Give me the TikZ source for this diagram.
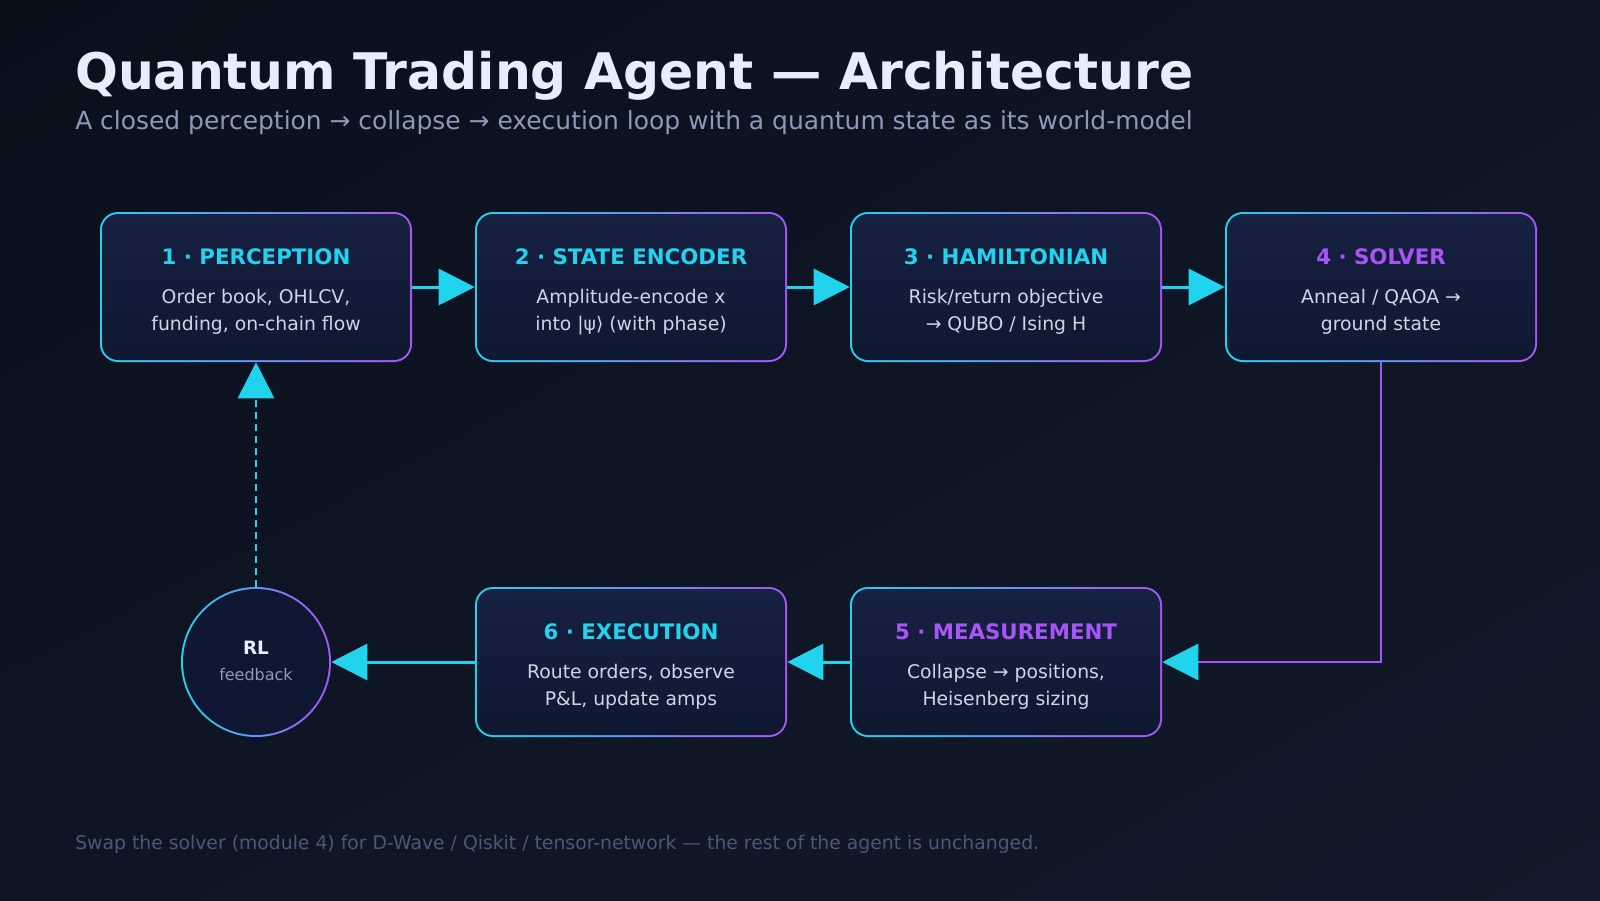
\documentclass[tikz,border=0pt]{standalone}
\usepackage{fontspec}
\setmainfont{DejaVu Sans}
\usetikzlibrary{arrows.meta,shadings}
\definecolor{bgA}{HTML}{0A0F1C}
\definecolor{bgB}{HTML}{121A2B}
\definecolor{bgM}{HTML}{0E1524}
\definecolor{cyanc}{HTML}{22D3EE}
\definecolor{purc}{HTML}{A855F7}
\definecolor{boxtop}{HTML}{172142}
\definecolor{boxbot}{HTML}{0F1830}
\definecolor{circfill}{HTML}{0F1733}
\definecolor{titlec}{HTML}{E6EDFB}
\definecolor{subc}{HTML}{8A9AB8}
\definecolor{footc}{HTML}{4A5878}
\definecolor{bodyc}{HTML}{CDD6E6}
\tikzset{
  x=0.75pt, y=-0.75pt,
  modbox/.style={minimum width=234pt, minimum height=112.5pt, inner sep=0pt,
    rounded corners=13.5pt, left color=cyanc, right color=purc,
    path picture={\shade[top color=boxtop, bottom color=boxbot, rounded corners=12pt]
      ([shift={(1.5pt,-1.5pt)}]path picture bounding box.north west) rectangle
      ([shift={(-1.5pt,1.5pt)}]path picture bounding box.south east);}},
  rlcirc/.style={circle, minimum size=112.5pt, inner sep=0pt, left color=cyanc, right color=purc,
    path picture={\fill[circfill] (path picture bounding box.center) circle (54.75pt);}},
  headtxt/.style={anchor=base, inner sep=0pt, font=\fontsize{16}{19}\selectfont\bfseries},
  bodytxt/.style={anchor=base, inner sep=0pt, text=bodyc, font=\fontsize{14.1}{17}\selectfont},
  arr/.style={draw=cyanc, line width=2.25pt, -{Triangle[length=27pt,width=27pt]}},
  elbow/.style={draw=purc, line width=2.1pt, -{Triangle[length=27pt,width=27pt,color=cyanc]}},
  dsh/.style={draw=cyanc, line width=2.1pt, dash pattern=on 5.25pt off 3.75pt, -{Triangle[length=27pt,width=27pt]}},
}
\newcommand{\modnode}[7]{%
  \node[modbox] (#1) at (#2,#3) {};
  \node[headtxt, text=#4] (#1h) at (#2,#3-23) {#5};
  \node[bodytxt] (#1a) at (#2,#3+16) {#6};
  \node[bodytxt] (#1b) at (#2,#3+43) {#7};
}
\begin{document}
\begin{tikzpicture}
\useasboundingbox (0,0) rectangle (1600,900);
\shade[upper left=bgA, lower right=bgB, upper right=bgM, lower left=bgM] (0,0) rectangle (1600,900);
\node[anchor=base west, inner sep=0pt, text=titlec, font=\fontsize{37.8}{42}\selectfont\bfseries] (title) at (75,89) {Quantum Trading Agent — Architecture};
\node[anchor=base west, inner sep=0pt, text=subc, font=\fontsize{18.7}{22}\selectfont] (sub) at (75,129) {A closed perception → collapse → execution loop with a quantum state as its world-model};
\node[anchor=base west, inner sep=0pt, text=footc, font=\fontsize{14.1}{17}\selectfont] (foot) at (75,849) {Swap the solver (module 4) for D-Wave / Qiskit / tensor-network — the rest of the agent is unchanged.};

\modnode{b1}{256}{287}{cyanc}{1 · PERCEPTION}{Order book, OHLCV,}{funding, on-chain flow}
\modnode{b2}{631}{287}{cyanc}{2 · STATE ENCODER}{Amplitude-encode x}{into |ψ⟩ (with phase)}
\modnode{b3}{1006}{287}{cyanc}{3 · HAMILTONIAN}{Risk/return objective}{→ QUBO / Ising H}
\modnode{b4}{1381}{287}{purc}{4 · SOLVER}{Anneal / QAOA →}{ground state}
\modnode{b5}{1006}{662}{purc}{5 · MEASUREMENT}{Collapse → positions,}{Heisenberg sizing}
\modnode{b6}{631}{662}{cyanc}{6 · EXECUTION}{Route orders, observe}{P\&L, update amps}

\node[rlcirc] (rl) at (256,662) {};
\node[anchor=base, inner sep=0pt, text=titlec, font=\fontsize{13.8}{16}\selectfont\bfseries] (rlt) at (256,654) {RL};
\node[anchor=base, inner sep=0pt, text=subc, font=\fontsize{12}{14}\selectfont] (rlf) at (256,680) {feedback};

\draw[arr] (b1.east) -- (b2.west);
\draw[arr] (b2.east) -- (b3.west);
\draw[arr] (b3.east) -- (b4.west);
\draw[elbow] (b4.south) |- (b5.east);
\draw[arr] (b5.west) -- (b6.east);
\draw[arr] (b6.west) -- (rl.east);
\draw[dsh] (rl.north) -- (b1.south);
\end{tikzpicture}
\end{document}
